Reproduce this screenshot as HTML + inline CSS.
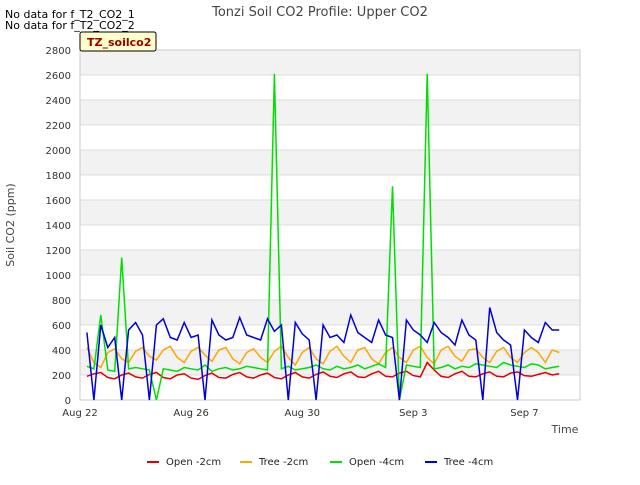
<!DOCTYPE html>
<html><head><meta charset="utf-8"><style>
body{margin:0;background:#fff;font-family:"Liberation Sans",sans-serif}
svg text{font-family:"DejaVu Sans","Liberation Sans",sans-serif}
</style></head><body>
<svg id="chart" width="640" height="480" viewBox="0 0 640 480">
<rect width="640" height="480" fill="#fff"/>
<g id="bands"></g><g id="grid"></g>
<rect x="80" y="50" width="500" height="350" fill="none" stroke="#ccc"/>
<g id="series"></g><g id="axes"></g>
<text x="320" y="16" text-anchor="middle" font-size="13" fill="#444">Tonzi Soil CO2 Profile: Upper CO2</text>
<text x="5" y="18" font-size="11" fill="#000">No data for f_T2_CO2_1</text>
<text x="5" y="29" font-size="11" fill="#000">No data for f_T2_CO2_2</text>
<rect x="80" y="32" width="76" height="19" fill="#ffffcc" stroke="#000" rx="2"/>
<text x="87" y="46" font-size="11" font-weight="bold" fill="#990000">TZ_soilco2</text>
<text x="14" y="225" font-size="11" fill="#444" transform="rotate(-90 14 225)" text-anchor="middle">Soil CO2 (ppm)</text>
<text x="565" y="433" font-size="11" fill="#444" text-anchor="middle">Time</text>
<g id="legend"></g>
</svg>
<script>
const tickDays=[0,4,8,12,16];
const tickLabels=["Aug 22","Aug 26","Aug 30","Sep 3","Sep 7"];
const yTicks=[0,200,400,600,800,1000,1200,1400,1600,1800,2000,2200,2400,2600,2800];
const seriesNames=["Open -2cm","Tree -2cm","Open -4cm","Tree -4cm"];
const seriesColors=["#e00000","#ffa500","#00e000","#0000dd"];
const open2=[190,210,220,180,170,200,215,185,175,205,220,180,170,200,210,175,165,195,215,180,175,205,220,185,175,200,215,180,170,200,220,185,175,205,225,190,180,210,225,185,180,210,230,190,185,215,230,195,185,300,240,190,180,210,230,190,185,210,225,190,185,215,225,195,190,205,220,200,210];
const tree2=[420,300,260,380,410,330,300,390,420,350,320,400,430,340,300,390,420,360,310,400,420,330,290,380,410,340,300,390,430,340,280,380,420,330,290,390,430,350,300,400,420,330,290,380,420,340,300,400,430,340,290,400,430,350,310,400,410,340,300,390,420,340,300,380,420,380,300,400,380];
const open4=[270,250,680,240,230,1140,250,260,250,240,0,250,240,230,260,250,240,280,230,250,260,240,250,270,260,250,240,2610,250,270,240,250,260,280,250,240,270,250,260,280,250,270,290,260,1710,0,280,270,260,2610,250,260,280,250,270,260,290,280,270,260,300,280,270,260,290,280,250,260,270];
const tree4=[540,0,600,420,500,0,560,620,520,0,600,650,500,480,620,500,520,0,640,520,480,500,660,520,500,480,650,550,600,0,620,530,480,0,600,500,520,460,680,540,500,460,640,520,500,0,640,560,520,460,620,540,500,440,640,520,480,0,740,540,480,440,0,560,500,460,620,560,560];
const allSeries=[open2,tree2,open4,tree4];
const ns="http://www.w3.org/2000/svg";
const X=d=>80+d*500/18, Y=v=>400-v*350/2800;
function mk(t,a,p){const e=document.createElementNS(ns,t);for(const k in a)e.setAttribute(k,a[k]);p.appendChild(e);return e;}
const bands=document.getElementById('bands'),grid=document.getElementById('grid'),axes=document.getElementById('axes');
for(let i=0;i+1<yTicks.length;i++){if(i%2===1){const r=mk('rect',{x:80,y:Y(yTicks[i+1]),width:500,height:Y(yTicks[i])-Y(yTicks[i+1]),fill:'#f2f2f2'},bands);

}}
yTicks.forEach(v=>{const l=mk('line',{x1:80,x2:580,y1:Y(v),y2:Y(v),stroke:'#ddd'},grid);


const t=mk('text',{x:71,y:Y(v)+4,'font-size':10,'text-anchor':'end',fill:'#333'},axes);t.textContent=v;

});
tickDays.forEach((d,i)=>{const t=mk('text',{x:X(d),y:416,'font-size':10,'text-anchor':'middle',fill:'#333'},axes);t.textContent=tickLabels[i];

});
const sg=document.getElementById('series');
allSeries.forEach((arr,s)=>{const pts=arr.map((v,i)=>X(0.25*(i+1)).toFixed(1)+','+Y(v).toFixed(1)).join(' ');
const p=mk('polyline',{points:pts,fill:'none',stroke:seriesColors[s],'stroke-width':1.5},sg);

});
const lg=document.getElementById('legend');const lx=[147,240,330,425];
seriesNames.forEach((n,i)=>{const g=mk('g',{},lg);


mk('line',{x1:lx[i],x2:lx[i]+12,y1:462,y2:462,stroke:seriesColors[i],'stroke-width':2},g);
const t=mk('text',{x:lx[i]+19,y:465,'font-size':10,fill:'#222'},g);t.textContent=n;});
</script>
</body></html>
